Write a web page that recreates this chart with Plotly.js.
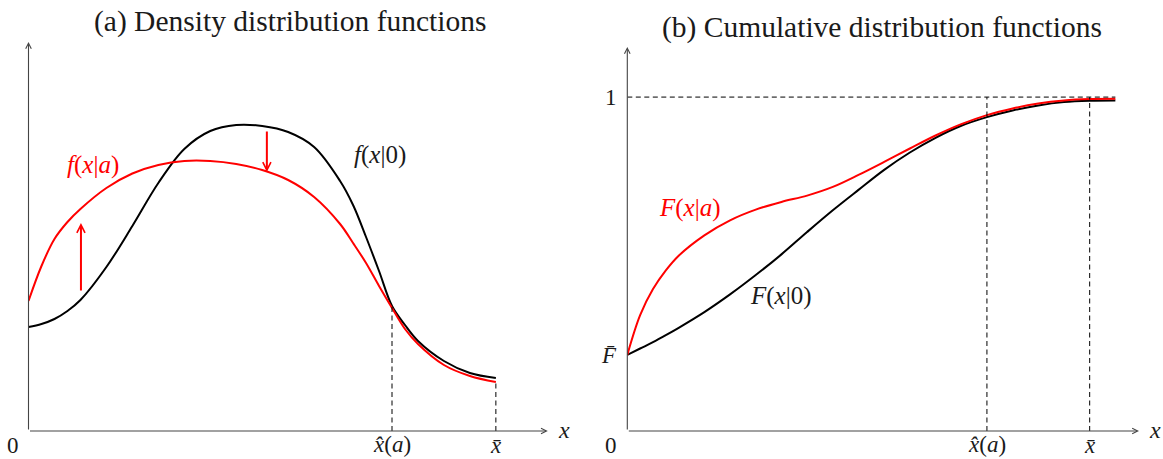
<!DOCTYPE html>
<html>
<head>
<meta charset="utf-8">
<script src="https://cdn.plot.ly/plotly-3.0.1.min.js"></script>
<style>html,body{margin:0;padding:0;background:#fff;}#chart{width:1163px;height:459px;}</style>
</head>
<body>
<div id="chart"></div>
<script>
// ---------- data ----------
const xHat = 7;
const xBar = 9;

// (a) densities
const xDens      = [0, 0.25, 0.5, 0.75, 1, 1.5, 2, 2.5, 3, 3.5, 4, 4.5, 5, 5.5, 6, 6.25, 6.5, 6.75, 7, 7.25, 7.5, 8, 8.5, 9];
const densBase   = [1.04, 1.07, 1.12, 1.20, 1.31, 1.64, 2.05, 2.48, 2.82, 3.00, 3.06, 3.05, 2.99, 2.84, 2.50, 2.26, 1.94, 1.60, 1.25, 1.06, 0.90, 0.70, 0.58, 0.53];
const densEffort = [1.30, 1.65, 1.92, 2.09, 2.22, 2.43, 2.575, 2.66, 2.70, 2.70, 2.67, 2.61, 2.51, 2.34, 2.07, 1.88, 1.68, 1.45, 1.23, 1.02, 0.87, 0.66, 0.55, 0.49];

// (b) cumulative distributions
const xCdf      = [0, 0.25, 0.5, 0.75, 1, 1.5, 2, 2.5, 3, 3.5, 4, 4.5, 5, 5.5, 6, 6.5, 7, 7.5, 8, 8.5, 9, 9.5];
const cdfBase   = [0.228, 0.247, 0.266, 0.287, 0.309, 0.356, 0.409, 0.467, 0.529, 0.596, 0.661, 0.722, 0.782, 0.834, 0.878, 0.914, 0.940, 0.960, 0.975, 0.985, 0.989, 0.990];
const cdfEffort = [0.228, 0.347, 0.425, 0.481, 0.525, 0.586, 0.631, 0.663, 0.686, 0.705, 0.731, 0.767, 0.806, 0.846, 0.885, 0.919, 0.946, 0.966, 0.981, 0.990, 0.994, 0.995];

// tick labels
const xTickVals = [xHat, xBar];
const xTickText = ['<i>x\u0302</i>(<i>a</i>)', '<i>x\u0304</i>'];
const cdfYTickVals = [1, cdfBase[0]];
const cdfYTickText = ['1', '<i>F\u0304</i>'];
const originText = '0';
const axisName = '<i>x</i>';

const titleA = '(a) Density distribution functions';
const titleB = '(b) Cumulative distribution functions';
const labelDensEffort = '<i>f</i>(<i>x</i>|<i>a</i>)';
const labelDensBase = '<i>f</i>(<i>x</i>|0)';
const labelCdfEffort = '<i>F</i>(<i>x</i>|<i>a</i>)';
const labelCdfBase = '<i>F</i>(<i>x</i>|0)';

// ---------- styling ----------
const W = 1163, H = 459;
const FONT = 'Liberation Serif, Times New Roman, serif';
const RED = '#ff0000';
const AX = '#444444';
const TXT = '#1a1a1a';
const yTopA = 3.89, yTopB = 1.15, xTopA = 10, xTopB = 9.96;

function curve(x, y, xa, ya, color) {
  return {x: x, y: y, xaxis: xa, yaxis: ya, mode: 'lines',
          line: {color: color, width: 2, shape: 'spline', smoothing: 1},
          cliponaxis: false, hoverinfo: 'skip'};
}
const traces = [
  curve(xDens, densBase, 'x', 'y', '#000'),
  curve(xDens, densEffort, 'x', 'y', RED),
  curve(xCdf, cdfBase, 'x2', 'y2', '#000'),
  curve(xCdf, cdfEffort, 'x2', 'y2', RED)
];

const DASH = {color: '#000', width: 1, dash: '5px,3.5px'};
const shapes = [
  {type: 'line', xref: 'x', yref: 'y', x0: xHat, x1: xHat, y0: 0, y1: densBase[xDens.indexOf(xHat)], line: DASH},
  {type: 'line', xref: 'x', yref: 'y', x0: xBar, x1: xBar, y0: 0, y1: densEffort[xDens.indexOf(xBar)], line: DASH},
  {type: 'line', xref: 'x2', yref: 'y2', x0: xHat, x1: xHat, y0: 0, y1: 1, line: DASH},
  {type: 'line', xref: 'x2', yref: 'y2', x0: xBar, x1: xBar, y0: 0, y1: 1, line: DASH},
  {type: 'line', xref: 'x2', yref: 'y2', x0: 0, x1: xCdf[xCdf.length - 1], y0: 1, y1: 1, line: DASH}
];

function arrow(xr, yr, x0, y0, x1, y1, color, width, size) {
  return {xref: xr, yref: yr, axref: xr, ayref: yr, x: x1, y: y1, ax: x0, ay: y0,
          text: '', showarrow: true, arrowhead: 5, arrowsize: size, arrowwidth: width,
          arrowcolor: color, standoff: 0, startstandoff: 0};
}
function label(xr, yr, x, y, text, size, color, opts) {
  return Object.assign({xref: xr, yref: yr, x: x, y: y, text: text, showarrow: false,
          font: {family: FONT, size: size, color: color}, xanchor: 'center', yanchor: 'middle'}, opts || {});
}

const annotations = [
  // axes
  arrow('x', 'y', 0, 0, xTopA, 0, AX, 1.1, 1),
  arrow('x', 'y', 0, 0, 0, yTopA, AX, 1.1, 1),
  arrow('x2', 'y2', 0, 0, xTopB, 0, AX, 1.1, 1),
  arrow('x2', 'y2', 0, 0, 0, yTopB, AX, 1.1, 1),
  // shift arrows
  arrow('x', 'y', 1.01, 1.39, 1.01, 2.08, RED, 2, 0.8),
  arrow('x', 'y', 4.59, 3.01, 4.59, 2.59, RED, 2, 0.8),
  // titles
  label('paper', 'paper', 290 / W, 1 - 22 / H, titleA, 29.5, TXT),
  label('paper', 'paper', 882 / W, 1 - 27 / H, titleB, 29.5, TXT),
  // curve labels
  label('x', 'y', 1.25, 2.66, labelDensEffort, 25, RED),
  label('x', 'y', 6.77, 2.76, labelDensBase, 25, TXT),
  label('x2', 'y2', 1.22, 0.668, labelCdfEffort, 25, RED),
  label('x2', 'y2', 2.99, 0.404, labelCdfBase, 25, TXT),
  // axis names
  label('x', 'y', xTopA, 0, axisName, 24, TXT, {xanchor: 'left', xshift: 8, yshift: 1}),
  label('x2', 'y2', xTopB, 0, axisName, 24, TXT, {xanchor: 'left', xshift: 8, yshift: 1}),
  // origins
  label('x', 'y', 0, 0, originText, 23, TXT, {xanchor: 'right', xshift: -8, yshift: -14}),
  label('x2', 'y2', 0, 0, originText, 23, TXT, {xanchor: 'right', xshift: -8, yshift: -14})
];
xTickVals.forEach((v, i) => {
  const opts = i === 0 ? {yref: 'paper', y: 0, yanchor: 'bottom', yshift: 0} : {yshift: -14};
  annotations.push(label('x', 'y', v, 0, xTickText[i], 23, TXT, opts));
  annotations.push(label('x2', 'y2', v, 0, xTickText[i], 23, TXT, Object.assign({}, opts)));
});
cdfYTickVals.forEach((v, i) => {
  annotations.push(label('x2', 'y2', 0, v, cdfYTickText[i], 23, TXT, {xanchor: 'right', xshift: -8, yshift: i === 1 ? -1 : 0}));
});

const hidden = {visible: false, fixedrange: true};
const layout = {
  width: W, height: H, autosize: false,
  margin: {l: 0, r: 0, t: 0, b: 0, pad: 0},
  paper_bgcolor: '#fff', plot_bgcolor: '#fff', showlegend: false,
  xaxis:  Object.assign({domain: [28.5 / W, 547.8 / W], range: [0, xTopA], anchor: 'y'}, hidden),
  yaxis:  Object.assign({domain: [1 - 431 / H, 1 - 42 / H], range: [0, yTopA], anchor: 'x'}, hidden),
  xaxis2: Object.assign({domain: [627.3 / W, 1139 / W], range: [0, xTopB], anchor: 'y2'}, hidden),
  yaxis2: Object.assign({domain: [1 - 431 / H, 1 - 47 / H], range: [0, yTopB], anchor: 'x2'}, hidden),
  shapes: shapes,
  annotations: annotations
};

Plotly.newPlot('chart', traces, layout, {staticPlot: true, displayModeBar: false});
</script>
</body>
</html>
